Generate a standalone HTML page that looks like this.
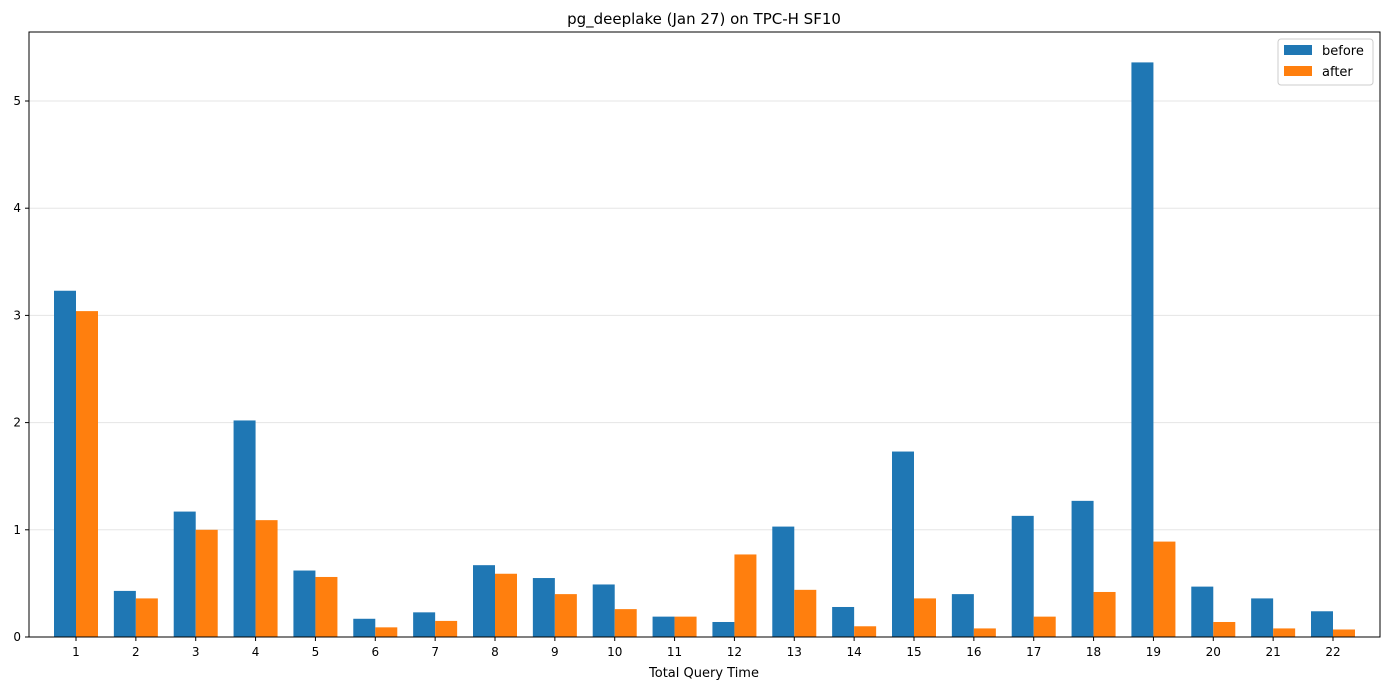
<!DOCTYPE html>
<html><head><meta charset="utf-8"><style>
body{margin:0;background:#fff;font-family:"Liberation Sans","DejaVu Sans",sans-serif;}
svg text{font-family:"DejaVu Sans","Liberation Sans",sans-serif;}
</style></head><body>
<svg id="chart" width="1389" height="690">
<text x="704" y="24" text-anchor="middle" font-size="15">pg_deeplake (Jan 27) on TPC-H SF10</text>
<g id="grid"></g><g id="bars"></g><g id="axes"></g>
<text x="704" y="677" text-anchor="middle" font-size="13">Total Query Time</text>
<g>
<rect x="1278" y="39" width="95" height="46" fill="#fff" stroke="#ccc" rx="3"/>
<rect x="1284" y="45" width="28" height="10" fill="#1f77b4"/>
<text x="1322" y="55" font-size="13">before</text>
<rect x="1284" y="66" width="28" height="10" fill="#ff7f0e"/>
<text x="1322" y="76" font-size="13">after</text>
</g>
</svg>
<script>
const categories=["1","2","3","4","5","6","7","8","9","10","11","12","13","14","15","16","17","18","19","20","21","22"];
const beforeVals=[3.23,0.43,1.17,2.02,0.62,0.17,0.23,0.67,0.55,0.49,0.19,0.14,1.03,0.28,1.73,0.40,1.13,1.27,5.36,0.47,0.36,0.24];
const afterVals=[3.04,0.36,1.00,1.09,0.56,0.09,0.15,0.59,0.40,0.26,0.19,0.77,0.44,0.10,0.36,0.08,0.19,0.42,0.89,0.14,0.08,0.07];
const yTicks=[0,1,2,3,4,5];
const L=29,R=1380,T=32,B=637,PX=107.2;
const ns="http://www.w3.org/2000/svg";
const y=v=>B-v*PX;
const x=i=>76+i*(1333-76)/21;
const bw=22;
function mk(tag,attrs,parent){const e=document.createElementNS(ns,tag);for(const k in attrs)e.setAttribute(k,attrs[k]);document.getElementById(parent).appendChild(e);return e;}
yTicks.forEach(t=>{
  if(t>0){const g=mk('line',{x1:L,x2:R,y1:y(t),y2:y(t),stroke:'#e5e5e5','stroke-width':1},'grid');
  
  }
  mk('line',{x1:L-4,x2:L,y1:y(t),y2:y(t),stroke:'#000'},'axes');
  const tx=mk('text',{x:L-8,y:y(t)+4,'text-anchor':'end','font-size':12},'axes');tx.textContent=t;
  
  
});
categories.forEach((c,i)=>{
  const b=mk('rect',{x:x(i)-bw,y:y(beforeVals[i]),width:bw,height:beforeVals[i]*PX,fill:'#1f77b4'},'bars');
  
  
  const a=mk('rect',{x:x(i),y:y(afterVals[i]),width:bw,height:afterVals[i]*PX,fill:'#ff7f0e'},'bars');
  
  
  mk('line',{x1:x(i),x2:x(i),y1:B,y2:B+4,stroke:'#000'},'axes');
  const tx=mk('text',{x:x(i),y:B+19,'text-anchor':'middle','font-size':12},'axes');tx.textContent=c;
  
  
});
const fr=mk('rect',{x:L,y:T,width:R-L,height:B-T,fill:'none',stroke:'#000','stroke-width':1},'axes');


</script>
</body></html>
